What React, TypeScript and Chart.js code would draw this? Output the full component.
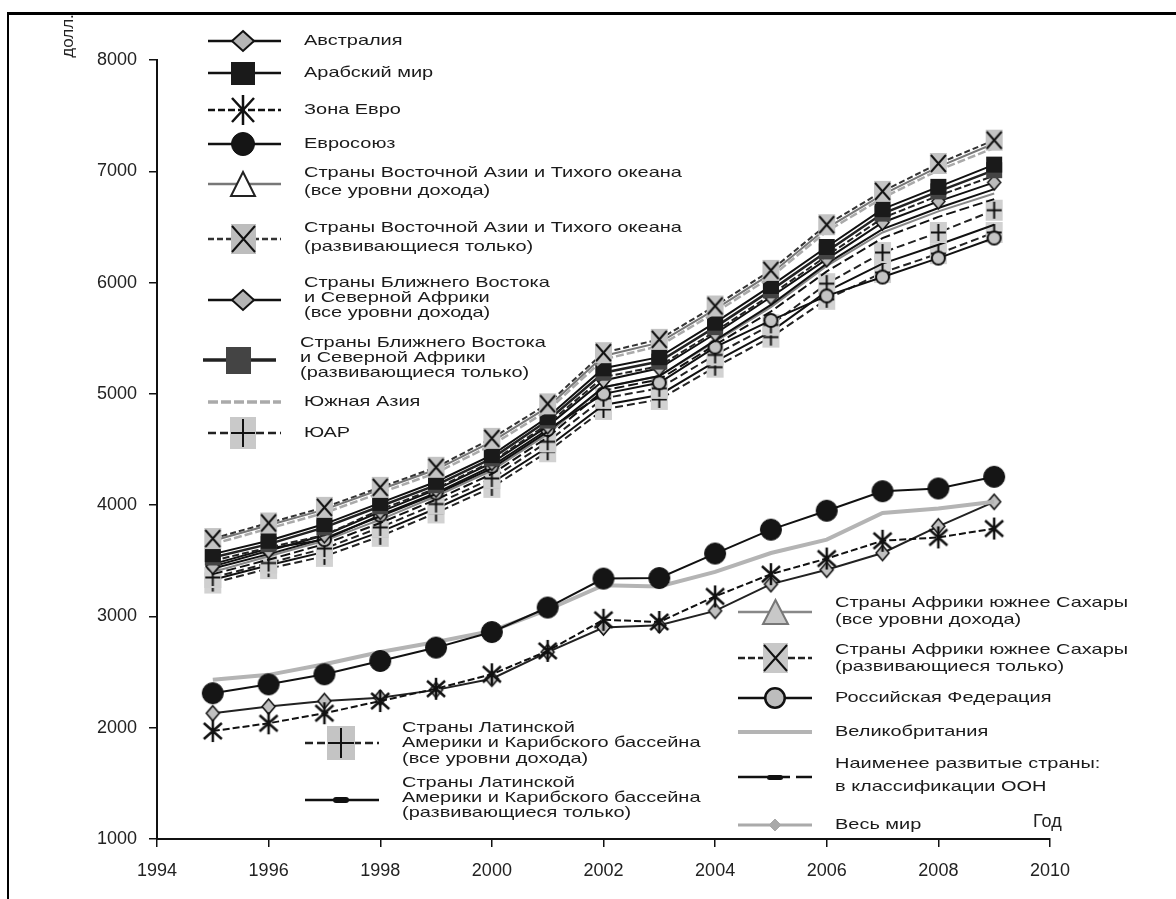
import React, { useEffect, useRef } from 'react';
import { Chart, registerables } from 'chart.js';

Chart.register(...registerables);

// ---------------- DATA ----------------
const years = [1995, 1996, 1997, 1998, 1999, 2000, 2001, 2002, 2003, 2004, 2005, 2006, 2007, 2008, 2009];
const xTickValues = [1994, 1996, 1998, 2000, 2002, 2004, 2006, 2008, 2010];
const yTickValues = [1000, 2000, 3000, 4000, 5000, 6000, 7000, 8000];

const eastAsiaDev = [3700, 3840, 3980, 4160, 4340, 4600, 4910, 5370, 5490, 5790, 6110, 6520, 6820, 7070, 7280];
const eastAsiaAll = [3680, 3820, 3960, 4140, 4320, 4570, 4880, 5340, 5460, 5760, 6080, 6490, 6790, 7040, 7250];
const southAsia = [3650, 3790, 3930, 4110, 4290, 4540, 4850, 5310, 5430, 5730, 6050, 6460, 6760, 7010, 7210];
const arabWorld = [3560, 3680, 3830, 4020, 4210, 4450, 4790, 5230, 5330, 5640, 5970, 6320, 6660, 6860, 7060];
const menaDev = [3530, 3650, 3800, 3990, 4180, 4420, 4760, 5190, 5290, 5600, 5930, 6280, 6620, 6820, 7010];
const africaDev = [3500, 3620, 3730, 3960, 4150, 4390, 4730, 5150, 5250, 5560, 5890, 6240, 6580, 6780, 6960];
const australia = [3450, 3590, 3730, 3940, 4140, 4380, 4710, 5120, 5230, 5540, 5870, 6210, 6540, 6730, 6900];
const menaAll = [3430, 3560, 3700, 3900, 4100, 4330, 4660, 5060, 5160, 5480, 5800, 6170, 6480, 6670, 6840];
const russia = [3470, 3610, 3690, 3910, 4110, 4350, 4680, 5000, 5100, 5420, 5660, 5880, 6050, 6220, 6400];
const africaAll = [3400, 3540, 3680, 3870, 4080, 4310, 4640, 5060, 5160, 5470, 5780, 6150, 6450, 6640, 6800];
const ldc = [3380, 3510, 3650, 3840, 4050, 4280, 4610, 5030, 5130, 5440, 5740, 6100, 6400, 6590, 6750];
const southAfrica = [3350, 3480, 3610, 3800, 4010, 4240, 4570, 4960, 5050, 5350, 5620, 5990, 6270, 6450, 6650];
const latinDev = [3330, 3460, 3580, 3760, 3970, 4200, 4520, 4900, 4990, 5290, 5560, 5920, 6170, 6340, 6520];
const latinAll = [3300, 3430, 3540, 3720, 3930, 4160, 4480, 4860, 4950, 5240, 5510, 5850, 6090, 6260, 6450];

const euroUnion = [2310, 2390, 2480, 2600, 2720, 2860, 3080, 3340, 3345, 3565, 3780, 3950, 4125, 4150, 4255];
const greatBritain = [2430, 2475, 2570, 2680, 2770, 2870, 3060, 3280, 3270, 3400, 3570, 3690, 3930, 3970, 4030];
const euroArea = [1970, 2040, 2130, 2240, 2350, 2480, 2690, 2970, 2950, 3180, 3380, 3520, 3680, 3710, 3790];
const world = [2130, 2190, 2240, 2270, 2340, 2440, 2680, 2900, 2920, 3050, 3290, 3420, 3570, 3810, 4030];

// ---------------- STYLES ----------------
type MK = { kind: string; w: number; h: number; fill?: string; stroke?: string; lw?: number };

type SeriesDef = {
  key: string;
  label: string[];
  values: number[];
  color: string;
  width: number;
  dash: number[];
  marker: MK | null;
  lmarker: MK | null;
  lwidth?: number;
  ldash?: number[];
  lcolor?: string;
};

const SERIES: SeriesDef[] = [
  { key: 'eastAsiaDev', label: ['Страны Восточной Азии и Тихого океана', '(развивающиеся только)'], values: eastAsiaDev, color: '#333', width: 2, dash: [6, 3],
    marker: { kind: 'sqX', w: 17, h: 21, fill: '#c4c4c4' }, lmarker: { kind: 'sqX', w: 25, h: 30, fill: '#bdbdbd' } },
  { key: 'eastAsiaAll', label: ['Страны Восточной Азии и Тихого океана', '(все уровни дохода)'], values: eastAsiaAll, color: '#777', width: 2, dash: [],
    marker: { kind: 'triangle', w: 14, h: 13, fill: '#fff', stroke: '#222', lw: 1.5 }, lmarker: { kind: 'triangle', w: 26, h: 26, fill: '#fff', stroke: '#222', lw: 2 } },
  { key: 'southAsia', label: ['Южная Азия'], values: southAsia, color: '#aaa', width: 2.5, dash: [8, 3],
    marker: null, lmarker: null, lwidth: 3.5, ldash: [10, 3] },
  { key: 'arabWorld', label: ['Арабский мир'], values: arabWorld, color: '#111', width: 2, dash: [],
    marker: { kind: 'square', w: 16, h: 16, fill: '#1a1a1a' }, lmarker: { kind: 'square', w: 24, h: 23, fill: '#1a1a1a' } },
  { key: 'menaDev', label: ['Страны Ближнего Востока', 'и Северной Африки', '(развивающиеся только)'], values: menaDev, color: '#222', width: 2.5, dash: [],
    marker: { kind: 'square', w: 16, h: 16, fill: '#444' }, lmarker: { kind: 'square', w: 25, h: 27, fill: '#444' }, lwidth: 3.5 },
  { key: 'africaDev', label: ['Страны Африки южнее Сахары', '(развивающиеся только)'], values: africaDev, color: '#222', width: 2, dash: [7, 3],
    marker: null, lmarker: { kind: 'sqX', w: 25, h: 30, fill: '#c8c8c8' } },
  { key: 'australia', label: ['Австралия'], values: australia, color: '#111', width: 2, dash: [],
    marker: { kind: 'diamond', w: 15, h: 17, fill: '#bbb', stroke: '#111', lw: 1.5 }, lmarker: { kind: 'diamond', w: 24, h: 22, fill: '#b5b5b5', stroke: '#111', lw: 2 } },
  { key: 'menaAll', label: ['Страны Ближнего Востока', 'и Северной Африки', '(все уровни дохода)'], values: menaAll, color: '#111', width: 2, dash: [],
    marker: null, lmarker: { kind: 'diamond', w: 24, h: 22, fill: '#b5b5b5', stroke: '#111', lw: 2 } },
  { key: 'russia', label: ['Российская Федерация'], values: russia, color: '#111', width: 2, dash: [],
    marker: { kind: 'circle', w: 15, h: 15, fill: '#c4c4c4', stroke: '#111', lw: 2 }, lmarker: { kind: 'circle', w: 22, h: 22, fill: '#bdbdbd', stroke: '#111', lw: 2.5 } },
  { key: 'africaAll', label: ['Страны Африки южнее Сахары', '(все уровни дохода)'], values: africaAll, color: '#888', width: 2, dash: [],
    marker: null, lmarker: { kind: 'triangle', w: 27, h: 26, fill: '#c8c8c8', stroke: '#777', lw: 2 } },
  { key: 'ldc', label: ['Наименее развитые страны:', 'в классификации ООН'], values: ldc, color: '#111', width: 2, dash: [10, 4],
    marker: null, lmarker: { kind: 'pill', w: 16, h: 5, fill: '#111' }, ldash: [36, 4, 12, 6] },
  { key: 'southAfrica', label: ['ЮАР'], values: southAfrica, color: '#222', width: 2, dash: [8, 4],
    marker: { kind: 'sqPlus', w: 17, h: 21, fill: '#cfcfcf' }, lmarker: { kind: 'sqPlus', w: 26, h: 32, fill: '#c9c9c9' } },
  { key: 'latinDev', label: ['Страны Латинской', 'Америки и Карибского бассейна', '(развивающиеся только)'], values: latinDev, color: '#111', width: 2, dash: [],
    marker: null, lmarker: { kind: 'pill', w: 16, h: 6, fill: '#111' } },
  { key: 'latinAll', label: ['Страны Латинской', 'Америки и Карибского бассейна', '(все уровни дохода)'], values: latinAll, color: '#222', width: 2, dash: [8, 4],
    marker: { kind: 'sqPlus', w: 17, h: 21, fill: '#d2d2d2' }, lmarker: { kind: 'sqPlus', w: 28, h: 34, fill: '#c4c4c4' } },
  { key: 'euroUnion', label: ['Евросоюз'], values: euroUnion, color: '#111', width: 2, dash: [],
    marker: { kind: 'circle', w: 22, h: 22, fill: '#151515', stroke: '#111', lw: 1 }, lmarker: { kind: 'circle', w: 24, h: 24, fill: '#151515', stroke: '#111', lw: 1 } },
  { key: 'greatBritain', label: ['Великобритания'], values: greatBritain, color: '#b4b4b4', width: 4, dash: [],
    marker: null, lmarker: null, lwidth: 4 },
  { key: 'euroArea', label: ['Зона Евро'], values: euroArea, color: '#111', width: 2, dash: [7, 3],
    marker: { kind: 'star', w: 20, h: 22, stroke: '#111', lw: 2.5 }, lmarker: { kind: 'star', w: 24, h: 30, stroke: '#111', lw: 2.5 } },
  { key: 'world', label: ['Весь мир'], values: world, color: '#222', width: 2, dash: [],
    marker: { kind: 'diamond', w: 15, h: 17, fill: '#c0c0c0', stroke: '#111', lw: 1.5 }, lmarker: { kind: 'diamond', w: 14, h: 14, fill: '#a8a8a8', stroke: '#a8a8a8', lw: 1 },
    ldash: [], lcolor: '#aaa', lwidth: 3 },
];

// legend layout (pixel positions on the canvas)
type LItem = { key: string; x0: number; x1: number; xm: number; xt: number; sy: number; ty: number[] };
const TOP = { x0: 208, x1: 281, xm: 243, xt: 304 };
const LAT = { x0: 305, x1: 379, xm: 341, xt: 402 };
const RGT = { x0: 738, x1: 812, xm: 775, xt: 835 };
const LEGEND_LAYOUT: LItem[] = [
  { key: 'australia', ...TOP, sy: 41, ty: [41] },
  { key: 'arabWorld', ...TOP, sy: 73, ty: [73] },
  { key: 'euroArea', ...TOP, sy: 110, ty: [110] },
  { key: 'euroUnion', ...TOP, sy: 144, ty: [144] },
  { key: 'eastAsiaAll', ...TOP, sy: 184, ty: [173, 191] },
  { key: 'eastAsiaDev', ...TOP, sy: 239, ty: [228, 247] },
  { key: 'menaAll', ...TOP, sy: 300, ty: [283, 298, 313] },
  { key: 'menaDev', x0: 203, x1: 276, xm: 238, xt: 300, sy: 360, ty: [343, 358, 373] },
  { key: 'southAsia', ...TOP, sy: 402, ty: [402] },
  { key: 'southAfrica', ...TOP, sy: 433, ty: [433] },
  { key: 'latinAll', ...LAT, sy: 743, ty: [728, 743, 759] },
  { key: 'latinDev', ...LAT, sy: 800, ty: [783, 798, 813] },
  { key: 'africaAll', ...RGT, sy: 612, ty: [603, 620] },
  { key: 'africaDev', ...RGT, sy: 658, ty: [650, 667] },
  { key: 'russia', ...RGT, sy: 698, ty: [698] },
  { key: 'greatBritain', ...RGT, sy: 732, ty: [732] },
  { key: 'ldc', ...RGT, sy: 777, ty: [764, 787] },
  { key: 'world', ...RGT, sy: 825, ty: [825] },
];

const FONT = '"Liberation Sans", Arial, sans-serif';
const LEGEND_FONT_SIZE = 15;
const LEGEND_SCALE_X = 1.33;

function makeMarker(m: MK): HTMLCanvasElement {
  const pad = 2;
  const c = document.createElement('canvas');
  c.width = Math.ceil(m.w + pad * 2);
  c.height = Math.ceil(m.h + pad * 2);
  const g = c.getContext('2d') as CanvasRenderingContext2D;
  g.translate(pad, pad);
  const w = m.w, h = m.h, cx = w / 2, cy = h / 2;
  g.lineWidth = m.lw ?? 2;
  g.strokeStyle = m.stroke ?? '#111';
  g.fillStyle = m.fill ?? '#111';
  g.lineCap = 'butt';
  switch (m.kind) {
    case 'square':
      g.fillRect(0, 0, w, h);
      break;
    case 'sqX':
      g.fillRect(0, 0, w, h);
      g.strokeStyle = '#111';
      g.lineWidth = 2;
      g.beginPath();
      g.moveTo(1, 2); g.lineTo(w - 1, h - 2);
      g.moveTo(w - 1, 2); g.lineTo(1, h - 2);
      g.stroke();
      break;
    case 'sqPlus':
      g.fillRect(0, 0, w, h);
      g.strokeStyle = '#111';
      g.lineWidth = 2;
      g.beginPath();
      g.moveTo(cx, 2); g.lineTo(cx, h - 2);
      g.moveTo(1, cy); g.lineTo(w - 1, cy);
      g.stroke();
      break;
    case 'diamond':
      g.beginPath();
      g.moveTo(cx, 1); g.lineTo(w - 1, cy); g.lineTo(cx, h - 1); g.lineTo(1, cy); g.closePath();
      g.fill(); g.stroke();
      break;
    case 'circle':
      g.beginPath();
      g.arc(cx, cy, Math.min(w, h) / 2 - (m.lw ?? 2) / 2, 0, Math.PI * 2);
      g.fill(); g.stroke();
      break;
    case 'triangle':
      g.beginPath();
      g.moveTo(cx, 1); g.lineTo(w - 1, h - 1); g.lineTo(1, h - 1); g.closePath();
      g.fill(); g.stroke();
      break;
    case 'star':
      g.beginPath();
      g.moveTo(cx, 0); g.lineTo(cx, h);
      g.moveTo(1, 3); g.lineTo(w - 1, h - 3);
      g.moveTo(w - 1, 3); g.lineTo(1, h - 3);
      g.stroke();
      break;
    case 'pill': {
      const r = h / 2;
      g.beginPath();
      g.moveTo(r, 0); g.lineTo(w - r, 0); g.arc(w - r, r, r, -Math.PI / 2, Math.PI / 2);
      g.lineTo(r, h); g.arc(r, r, r, Math.PI / 2, Math.PI * 1.5); g.closePath();
      g.fill();
      break;
    }
  }
  return c;
}

function drawStretched(ctx: CanvasRenderingContext2D, s: string, x: number, y: number, sx: number) {
  ctx.save();
  ctx.translate(x, y);
  ctx.scale(sx, 1);
  ctx.fillText(s, 0, 0);
  ctx.restore();
}

export default function App() {
  const ref = useRef<HTMLCanvasElement | null>(null);

  useEffect(() => {
    if (!ref.current) return;
    const legendMarkers: Record<string, HTMLCanvasElement | null> = {};
    SERIES.forEach((s) => { legendMarkers[s.key] = s.lmarker ? makeMarker(s.lmarker) : null; });

    const legendPlugin = {
      id: 'customLegend',
      afterDraw(chart: any) {
        const ctx: CanvasRenderingContext2D = chart.ctx;
        ctx.save();
        LEGEND_LAYOUT.forEach((item) => {
          const s = SERIES.find((d) => d.key === item.key)!;
          ctx.strokeStyle = s.lcolor ?? s.color;
          ctx.lineWidth = s.lwidth ?? 2.5;
          ctx.setLineDash(s.ldash ?? s.dash);
          ctx.beginPath();
          ctx.moveTo(item.x0, item.sy);
          ctx.lineTo(item.x1, item.sy);
          ctx.stroke();
          ctx.setLineDash([]);
          const img = legendMarkers[s.key];
          if (img) ctx.drawImage(img, Math.round(item.xm - img.width / 2), Math.round(item.sy - img.height / 2));
          ctx.fillStyle = '#1a1a1a';
          ctx.font = `${LEGEND_FONT_SIZE}px ${FONT}`;
          ctx.textAlign = 'left';
          ctx.textBaseline = 'middle';
          s.label.forEach((t, i) => drawStretched(ctx, t, item.xt, item.ty[i], LEGEND_SCALE_X));
        });
        // axis titles
        ctx.fillStyle = '#222';
        ctx.font = `17px ${FONT}`;
        ctx.textAlign = 'center';
        ctx.textBaseline = 'middle';
        ctx.save();
        ctx.translate(68, 36);
        ctx.rotate(-Math.PI / 2);
        ctx.fillText('долл.', 0, 0);
        ctx.restore();
        ctx.font = `18px ${FONT}`;
        ctx.textAlign = 'left';
        ctx.fillText('Год', 1033, 822);
        ctx.restore();
      },
    };

    const datasets = SERIES.map((s) => ({
      label: s.label.join(' '),
      data: years.map((yr, i) => ({ x: yr, y: s.values[i] })),
      borderColor: s.color,
      backgroundColor: s.color,
      borderWidth: s.width,
      borderDash: s.dash,
      tension: 0,
      pointStyle: s.marker ? makeMarker(s.marker) : 'circle',
      pointRadius: s.marker ? 10 : 0,
      pointHoverRadius: s.marker ? 10 : 0,
      clip: false as any,
    }));

    const chart = new Chart(ref.current, {
      type: 'line',
      data: { datasets },
      plugins: [legendPlugin],
      options: {
        responsive: false,
        animation: false,
        events: [],
        layout: { padding: { top: 60, right: 126, left: 0, bottom: 0 } },
        plugins: { legend: { display: false }, tooltip: { enabled: false }, title: { display: false } },
        scales: {
          x: {
            type: 'linear',
            min: 1994,
            max: 2010,
            afterFit: (s: any) => { s.height = 60; },
            afterBuildTicks: (s: any) => { s.ticks = xTickValues.map((v) => ({ value: v })); },
            ticks: {
              callback: (v: any) => String(v),
              color: '#222',
              font: { family: FONT, size: 18 },
              padding: 13,
              maxRotation: 0,
              autoSkip: false,
            },
            grid: { display: true, drawOnChartArea: false, drawTicks: true, tickLength: 8, color: '#111', lineWidth: 1.5 },
            border: { display: true, color: '#111', width: 2 },
          },
          y: {
            type: 'linear',
            min: 1000,
            max: 8000,
            afterFit: (s: any) => { s.width = 157; },
            afterBuildTicks: (s: any) => { s.ticks = yTickValues.map((v) => ({ value: v })); },
            ticks: {
              callback: (v: any) => String(v),
              color: '#222',
              font: { family: FONT, size: 18 },
              padding: 12,
              autoSkip: false,
            },
            grid: { display: true, drawOnChartArea: false, drawTicks: true, tickLength: 8, color: '#111', lineWidth: 1.5 },
            border: { display: true, color: '#111', width: 2 },
          },
        },
      },
    });
    return () => chart.destroy();
  }, []);

  return (
    <div style={{ position: 'absolute', left: 0, top: 0, width: 1176, height: 899, background: '#fff', overflow: 'hidden' }}>
      <canvas ref={ref} width={1176} height={899} style={{ display: 'block', width: 1176, height: 899 }} />
      <div
        style={{
          position: 'absolute',
          left: 7,
          top: 12,
          width: 1176,
          height: 899,
          borderTop: '3px solid #000',
          borderLeft: '2px solid #000',
          pointerEvents: 'none',
        }}
      />
    </div>
  );
}
